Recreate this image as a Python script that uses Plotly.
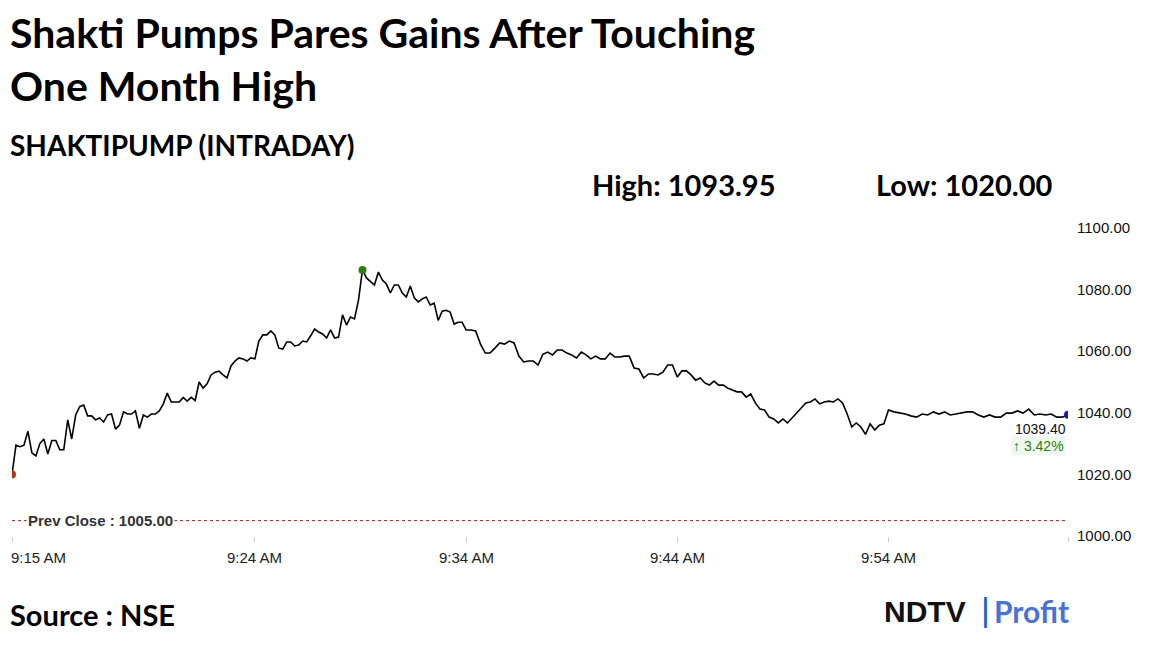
import numpy as np
import plotly.graph_objects as go

# intraday prices, split per tick interval (open-9:24, 9:24-9:34, 9:34-9:44, 9:44-9:54, 9:54-close)
seg_915 = [1020.0, 1029.5, 1029.0, 1029.5, 1034.0, 1027.0, 1026.0, 1030.0, 1031.5, 1026.6,
           1031.0, 1031.0, 1028.0, 1028.0, 1037.7, 1031.5, 1039.3, 1042.0, 1042.5, 1039.0,
           1039.0, 1037.7, 1038.3, 1037.0, 1039.3, 1039.6, 1034.7, 1036.0, 1040.3, 1039.6,
           1039.6, 1040.6, 1035.0, 1039.3, 1038.6, 1039.6, 1039.6, 1040.6, 1042.9, 1046.4,
           1043.5, 1043.5, 1043.5, 1045.0, 1043.8, 1045.0, 1044.0, 1050.0, 1048.0, 1049.4,
           1052.3, 1053.2, 1053.5, 1052.3, 1051.3, 1055.2, 1056.8, 1057.8, 1057.5, 1056.8,
           1057.8]
seg_924 = [1057.5, 1063.3, 1065.3, 1065.3, 1066.6, 1065.3, 1061.0, 1060.7, 1063.0, 1063.0,
           1061.7, 1062.0, 1063.3, 1063.0, 1065.0, 1067.2, 1066.2, 1065.6, 1064.3, 1066.9,
           1064.3, 1064.6, 1071.8, 1068.5, 1071.1, 1070.5, 1076.6, 1086.4, 1083.8, 1082.5,
           1081.5, 1085.7, 1083.1, 1081.8, 1078.9, 1081.5, 1081.5, 1078.9, 1077.6, 1081.2,
           1077.3, 1076.0, 1077.0, 1077.6, 1075.0, 1075.6, 1070.0, 1073.0, 1073.3, 1072.7,
           1068.8, 1069.4, 1069.4]
seg_934 = [1066.9, 1066.9, 1066.6, 1062.3, 1059.4, 1059.4, 1061.0, 1062.7, 1062.3, 1063.3,
           1062.7, 1058.4, 1056.5, 1056.8, 1056.8, 1055.5, 1059.0, 1059.7, 1058.8, 1060.4,
           1060.4, 1059.4, 1058.8, 1057.8, 1059.7, 1058.8, 1057.5, 1058.4, 1057.5, 1057.5,
           1059.4, 1058.1, 1058.1, 1058.4, 1058.4, 1054.5, 1054.2, 1051.3, 1052.6, 1052.6,
           1052.3, 1053.2, 1055.5, 1055.5]
seg_944 = [1051.6, 1053.6, 1053.6, 1052.3, 1050.6, 1051.3, 1049.7, 1049.0, 1050.3, 1049.0,
           1049.0, 1048.0, 1047.4, 1046.8, 1046.8, 1045.1, 1046.1, 1043.2, 1041.2, 1040.9,
           1038.6, 1038.0, 1036.7, 1038.0, 1036.7, 1038.3, 1039.9, 1041.6, 1043.2, 1043.5,
           1044.5, 1042.9, 1043.5, 1043.8, 1043.5, 1044.5, 1043.2, 1039.6, 1035.4, 1036.7,
           1035.4, 1033.0, 1036.4, 1034.4, 1036.0, 1036.4]
seg_954 = [1040.9, 1040.3, 1040.0, 1039.6, 1039.0, 1038.6, 1039.6, 1039.3, 1040.3, 1039.6,
           1040.3, 1039.3, 1039.6, 1039.9, 1040.3, 1040.3, 1039.3, 1038.6, 1039.3, 1038.6,
           1038.6, 1039.9, 1039.9, 1040.6, 1039.9, 1041.2, 1039.3, 1039.6, 1039.3, 1039.6,
           1038.6, 1038.6, 1039.4]

# minutes relative to 9:15
start_minute = -2.5
tick_minutes = [-2.5, 9, 19, 29, 39]
tick_labels = ["9:15 AM", "9:24 AM", "9:34 AM", "9:44 AM", "9:54 AM"]
end_minute = 47.5

prev_close = 1005.00
day_high = 1093.95
day_low = 1020.00
last_price = 1039.40
change_pct = 3.42
y_ticks = [1000, 1020, 1040, 1060, 1080, 1100]

# spread each segment evenly over its time window
segments = [seg_915, seg_924, seg_934, seg_944, seg_954]
bounds = [start_minute] + tick_minutes[1:] + [end_minute]
x, y = [], []
for i, seg in enumerate(segments):
    last = i == len(segments) - 1
    xs = np.linspace(bounds[i], bounds[i + 1], len(seg), endpoint=last)
    x.extend(xs)
    y.extend(seg)

peak_i = int(np.argmax(y))

fig = go.Figure()
fig.add_trace(go.Scatter(x=[x[0], x[-1]], y=[prev_close, prev_close], mode="lines",
                         line=dict(color="#a32020", width=1, dash="dot"), hoverinfo="skip"))
fig.add_trace(go.Scatter(x=x, y=y, mode="lines", line=dict(color="black", width=1.6)))
fig.add_trace(go.Scatter(x=[x[0], x[peak_i], x[-1]], y=[y[0], y[peak_i], y[-1]], mode="markers",
                         marker=dict(color=["#b8321a", "#2e7d12", "#1b1bb0"], size=8)))

FONT = "Lato"
# plot area in page pixels (page has an 8px body margin)
PAD = 8
L, R, T, B = 12, 1068, 228, 536
W, H = 1152 - PAD, 648 - PAD


def px_ann(text, xp, yp, size, color="black", family=FONT, bold=True):
    # place text by page pixels, converted to the plot-area paper fraction
    t = f"<b>{text}</b>" if bold else text
    return dict(text=t, x=(xp - L) / (R - L), y=(B - yp) / (B - T), xref="paper", yref="paper",
                xanchor="left", yanchor="middle", showarrow=False,
                font=dict(family=family, size=size, color=color))


anns = [
    px_ann("Shakti Pumps Pares Gains After Touching", 8, 33, 41),
    px_ann("One Month High", 8, 86, 41),
    px_ann("SHAKTIPUMP (INTRADAY)", 8, 145, 28),
    px_ann(f"High: {day_high:.2f}", 590, 184, 29),
    px_ann(f"Low: {day_low:.2f}", 874, 184, 29),
    px_ann("Source : NSE", 8, 614, 29),
    px_ann("NDTV", 882, 611, 30, color="#111", family="Liberation Sans"),
    px_ann("|", 979, 609, 34, color="#1e63c4", family="Liberation Sans", bold=False),
    px_ann("Profit", 992, 611, 30, color="#4a72d6", family="Lato"),
]
# x tick labels
for i, (m, lab) in enumerate(zip(tick_minutes, tick_labels)):
    anns.append(dict(text=lab, x=m, y=0, xref="x", yref="paper", yshift=-32,
                     xanchor="left" if i == 0 else "center", xshift=-3 if i == 0 else 0,
                     showarrow=False, font=dict(family="Liberation Sans", size=15, color="#222")))
anns.append(dict(text="<b>Prev Close : %.2f</b>" % prev_close, x=x[0], y=prev_close, xref="x", yref="y",
                 xanchor="left", yanchor="middle", xshift=14, showarrow=False, bgcolor="white",
                 font=dict(family="Liberation Sans", size=15, color="#333")))
anns.append(dict(text="%.2f" % last_price, x=x[-1], y=last_price, xref="x", yref="y",
                 xanchor="right", yanchor="top", yshift=-4, showarrow=False,
                 font=dict(family="Liberation Sans", size=14, color="#111")))
anns.append(dict(text="\u2191 %.2f%%" % change_pct, x=x[-1], y=last_price, xref="x", yref="y",
                 xanchor="right", yanchor="top", yshift=-21, xshift=-2, showarrow=False,
                 bgcolor="#eef8ee", font=dict(family="Liberation Sans", size=14, color="#2e7d12")))

fig.update_layout(
    width=W, height=H,
    margin=dict(l=L - PAD, r=W + PAD - R, t=T - PAD, b=H + PAD - B),
    paper_bgcolor="white", plot_bgcolor="white",
    showlegend=False,
    annotations=anns,
)
fig.update_xaxes(range=[start_minute, end_minute], showgrid=False, zeroline=False,
                 tickmode="array", tickvals=tick_minutes + [end_minute], ticktext=[""] * 6,
                 ticks="outside", ticklen=5, tickcolor="#ccc", showline=False)
fig.update_yaxes(range=[1000, 1100], side="right", showgrid=False, zeroline=False,
                 tickmode="array", tickvals=y_ticks, tickformat=".2f",
                 tickfont=dict(family="Liberation Sans", size=15, color="#111"), ticklabelstandoff=8)

fig.write_html("out.html")
